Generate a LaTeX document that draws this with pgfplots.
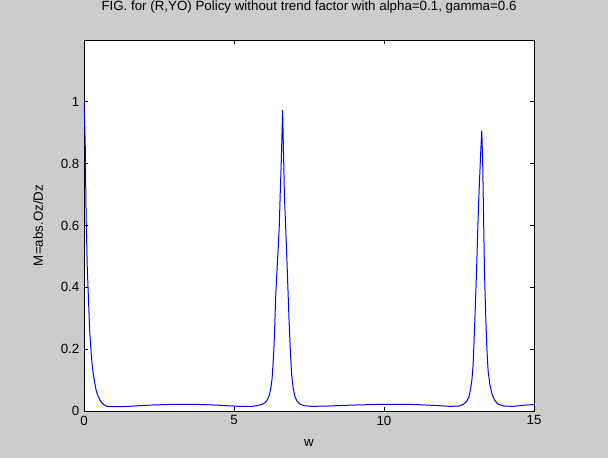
\documentclass[border=0pt]{standalone}
\usepackage{pgfplots}
\pgfplotsset{compat=1.18}
\usepackage{fontspec}
\setmainfont{Liberation Sans}
\definecolor{figgray}{RGB}{204,204,204}
\begin{document}
\begin{tikzpicture}[x=1pt,y=1pt]
\fill[figgray] (0,0) rectangle (456,343.5);
\begin{axis}[
  at={(63pt,35.25pt)}, anchor=south west,
  scale only axis, width=337.5pt, height=278.25pt,
  xmin=0, xmax=15, ymin=0, ymax=1.2,
  xtick={0,5,10,15}, ytick={0,0.2,0.4,0.6,0.8,1},
  axis background/.style={fill=white},
  tick align=inside, major tick length=3pt,
  axis line style={line width=0.6pt},
  every tick/.style={black, line width=0.6pt},
  tick label style={font=\fontsize{10}{12}\selectfont},
  label style={font=\fontsize{10}{12}\selectfont},
  /pgf/number format/assume math mode=true,
  title={FIG. for (R,YO) Policy without trend factor with alpha=0.1, gamma=0.6},
  title style={at={(axis description cs:0.5,1.067)}, anchor=center, yshift=0pt, font=\fontsize{10}{12}\selectfont},
  xlabel={w},
  xlabel style={at={(axis description cs:0.5,-0.086)}, anchor=center},
  ylabel={M=abs.Oz/Dz},
  ylabel style={at={(axis description cs:-0.102,0.5)}, anchor=center},
]
\addplot[color=blue, line width=0.75pt, line join=round] coordinates {
(0,1.0) (0.04,0.87) (0.07,0.63) (0.11,0.46) (0.15,0.36) (0.19,0.26) (0.23,0.20)
(0.27,0.15) (0.31,0.12) (0.36,0.09) (0.41,0.065) (0.47,0.048) (0.53,0.035)
(0.60,0.026) (0.68,0.019) (0.76,0.015) (0.9,0.014) (1.2,0.014) (1.5,0.015)
(1.8,0.017) (2.3,0.0195) (2.8,0.021) (3.3,0.0215) (3.9,0.021) (4.4,0.019)
(4.8,0.017) (5.2,0.015) (5.6,0.015) (5.8,0.018) (5.95,0.022) (6.05,0.028)
(6.12,0.038) (6.18,0.052) (6.23,0.075) (6.27,0.105) (6.30,0.15) (6.33,0.20)
(6.36,0.28) (6.39,0.37) (6.43,0.45) (6.47,0.52) (6.51,0.60) (6.54,0.70)
(6.58,0.82) (6.62,0.973) (6.65,0.84) (6.68,0.70) (6.72,0.60) (6.76,0.50)
(6.80,0.39) (6.84,0.28) (6.88,0.19) (6.92,0.12) (6.97,0.075) (7.03,0.047)
(7.10,0.032) (7.20,0.022) (7.35,0.017) (7.6,0.015) (8.1,0.016) (8.9,0.019)
(9.9,0.0215) (11.0,0.021) (11.7,0.018) (12.2,0.015) (12.5,0.016) (12.65,0.022)
(12.75,0.03) (12.83,0.045) (12.88,0.068) (12.93,0.10) (12.97,0.15) (13.0,0.22)
(13.03,0.30) (13.06,0.38) (13.09,0.47) (13.12,0.57) (13.15,0.66) (13.19,0.76)
(13.23,0.85) (13.26,0.906) (13.29,0.80) (13.32,0.62) (13.35,0.45) (13.39,0.31)
(13.43,0.20) (13.47,0.13) (13.53,0.085) (13.60,0.055) (13.68,0.036) (13.80,0.022)
(14.0,0.016) (14.3,0.015) (14.7,0.019) (15,0.021)
};
\end{axis}
\pgfresetboundingbox
\useasboundingbox (0,0) rectangle (456,343.5);
\end{tikzpicture}
\end{document}
